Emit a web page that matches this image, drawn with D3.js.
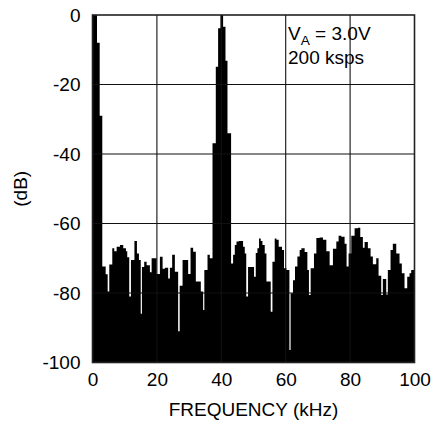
<!DOCTYPE html>
<html>
<head>
<meta charset="utf-8">
<script src="https://cdn.jsdelivr.net/npm/d3@7"></script>
<style>
  html, body { margin: 0; padding: 0; background: #fff; }
  svg text { font-family: "Liberation Sans", Arial, sans-serif; fill: #000; }
</style>
</head>
<body>
<svg id="chart" width="435" height="426"></svg>
<script>
// ---- Data ----
// Start frequency (kHz) of each step of the FFT spectrum
const freqStartKHz = [
  0, 1.40, 2.23, 3.04, 4.09, 4.71, 5.21, 6.14, 6.76, 7.50,
  8.53, 9.55, 10.39, 10.79, 11.41, 11.94, 13.02, 13.80, 14.42, 14.98,
  15.35, 16.06, 16.81, 17.83, 18.36, 19.91, 20.93, 21.77, 22.48, 23.50,
  24.03, 24.74, 25.58, 26.60, 27.07, 27.97, 29.71, 30.45, 31.26, 32.09,
  33.64, 34.36, 34.73, 35.72, 36.43, 37.27, 38.29, 39.01, 39.75, 40.56,
  41.30, 41.92, 43.04, 43.66, 44.19, 44.71, 45.43, 46.76, 47.29, 47.75,
  48.31, 50.17, 50.70, 51.22, 51.72, 52.25, 52.78, 53.49, 54.02, 55.35,
  55.88, 56.59, 57.12, 57.83, 58.85, 59.47, 60.22, 61.15, 61.52, 62.26,
  62.88, 63.63, 64.34, 64.87, 65.89, 66.73, 67.22, 67.75, 68.78, 69.52,
  70.54, 71.57, 72.62, 73.64, 74.67, 75.72, 76.43, 77.27, 78.29, 78.91,
  79.53, 80.37, 81.40, 82.42, 83.16, 83.97, 84.50, 85.52, 86.36, 87.07,
  88.12, 88.84, 89.67, 90.17, 91.22, 91.72, 92.56, 93.27, 94.33, 95.35,
  96.06, 96.90, 97.74, 98.45, 98.98
];
// Level (dB) of each step
const levelDb = [
  0, -8, -29, -72.4, -74.6, -79.6, -71.8, -67.1, -68, -66.7,
  -66.2, -67.1, -68, -69.7, -81, -70.5, -65, -68.6, -70.5, -86,
  -72.5, -71, -72, -74, -70, -74.5, -69.6, -73, -72.7, -75.8,
  -72.7, -69, -73.9, -91, -77.9, -70.5, -74.5, -67, -68.1, -76.7,
  -79.6, -84.9, -73.4, -69, -70, -36.9, -14.9, -3.8, 0, -3.4,
  -13.2, -34, -71.5, -69, -66.2, -65.2, -65, -66.7, -68.6, -81,
  -72.5, -75.3, -68.5, -67.1, -64.3, -65, -66.2, -68.6, -76.7, -85.4,
  -71, -64.3, -64.7, -66.7, -67.6, -72.9, -73.4, -96.4, -80.1, -76.3,
  -72.4, -69.5, -67.6, -67.1, -68.2, -73.4, -80.6, -72.9, -68.6, -64.2,
  -64, -64.7, -68, -72, -67.3, -65.2, -63.5, -63.8, -65.8, -72.4,
  -68.6, -63.5, -61.4, -61.2, -63.9, -67, -65.3, -67.1, -69.5, -71.7,
  -70, -75, -80.6, -76, -80.4, -73.4, -67.6, -65.8, -68.6, -71.5,
  -74.3, -78.6, -75.3, -74.3, -73.4
];
const xTicks = [0, 20, 40, 60, 80, 100];
const yTicks = [0, -20, -40, -60, -80, -100];
const xDomain = [0, 100];
const yDomain = [-100, 0];
const xTitle = "FREQUENCY (kHz)";
const yTitle = "(dB)";
const noteLine1 = ["V", "A", " = 3.0V"];
const noteLine2 = "200 ksps";

// ---- Layout ----
const svg = d3.select("#chart");
const plot = { left: 92.5, right: 414.5, top: 15, bottom: 362.5 };
const x = d3.scaleLinear().domain(xDomain).range([plot.left, plot.right]);
const y = d3.scaleLinear().domain(yDomain).range([plot.bottom, plot.top]);
const fontSize = 19;
const fmt = d => String(d); // plain hyphen-minus as in the reference

// spectrum as stepped filled area
const n = Math.min(freqStartKHz.length, levelDb.length);
const pts = d3.range(n).map(i => ({ f: freqStartKHz[i], db: levelDb[i] }));
pts.push({ f: xDomain[1], db: levelDb[n - 1] });

const area = d3.area()
  .curve(d3.curveStepAfter)
  .x(d => x(d.f))
  .y0(y(yDomain[0]))
  .y1(d => y(d.db));

svg.append("path")
  .datum(pts)
  .attr("d", area)
  .attr("fill", "#000");

// grid lines
const grid = svg.append("g").attr("stroke", "#111").attr("stroke-width", 1.1);
grid.selectAll("line.vx")
  .data(xTicks.filter(t => t > xDomain[0] && t < xDomain[1]))
  .join("line")
  .attr("x1", d => x(d)).attr("x2", d => x(d))
  .attr("y1", plot.top).attr("y2", plot.bottom);
grid.selectAll("line.hy")
  .data(yTicks.filter(t => t > yDomain[0] && t < yDomain[1]))
  .join("line")
  .attr("y1", d => y(d)).attr("y2", d => y(d))
  .attr("x1", plot.left).attr("x2", plot.right);

// frame
svg.append("rect")
  .attr("x", plot.left).attr("y", plot.top)
  .attr("width", plot.right - plot.left)
  .attr("height", plot.bottom - plot.top)
  .attr("fill", "none")
  .attr("stroke", "#222")
  .attr("stroke-width", 1.6);

// axes (labels only)
const xAxis = d3.axisBottom(x).tickValues(xTicks).tickSize(0).tickPadding(10)
  .tickFormat(fmt);
const gx = svg.append("g").attr("transform", `translate(0,${plot.bottom})`).call(xAxis);
gx.select(".domain").remove();
gx.selectAll("text").attr("font-size", fontSize)
  .attr("font-family", "'Liberation Sans', Arial, sans-serif").attr("fill", "#000");

const yAxis = d3.axisLeft(y).tickValues(yTicks).tickSize(0).tickPadding(12)
  .tickFormat(fmt);
const gy = svg.append("g").attr("transform", `translate(${plot.left},0)`).call(yAxis);
gy.select(".domain").remove();
gy.selectAll("text").attr("font-size", fontSize)
  .attr("font-family", "'Liberation Sans', Arial, sans-serif").attr("fill", "#000");

// axis titles
svg.append("text")
  .attr("x", (plot.left + plot.right) / 2)
  .attr("y", 416)
  .attr("text-anchor", "middle")
  .attr("font-size", fontSize)
  .text(xTitle);

svg.append("text")
  .attr("transform", `translate(27,${(plot.top + plot.bottom) / 2}) rotate(-90)`)
  .attr("text-anchor", "middle")
  .attr("font-size", fontSize)
  .text(yTitle);

// annotation
const note = svg.append("text").attr("x", 288).attr("y", 40).attr("font-size", fontSize);
note.append("tspan").text(noteLine1[0]);
note.append("tspan").attr("font-size", fontSize * 0.72).attr("dy", 5).text(noteLine1[1]);
note.append("tspan").attr("dy", -5).text(noteLine1[2]);
svg.append("text").attr("x", 288).attr("y", 64).attr("font-size", fontSize).text(noteLine2);
</script>
</body>
</html>
